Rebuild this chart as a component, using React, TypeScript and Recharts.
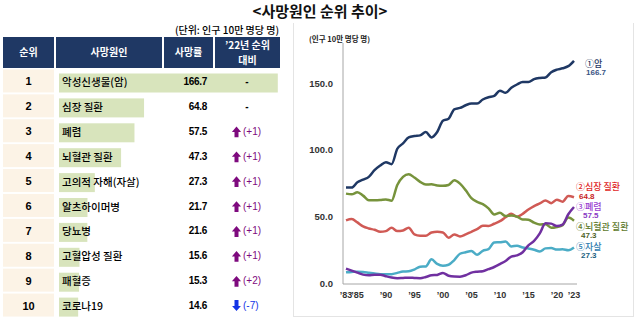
import React from 'react';
import { BarChart, Bar, XAxis, YAxis, LabelList, LineChart, Line } from 'recharts';

const FONT = '"Noto Sans CJK KR", "Noto Sans", sans-serif';
const NUMFONT = '"Liberation Sans", Arial, sans-serif';

// ---- table data ----
const ranks = [1, 2, 3, 4, 5, 6, 7, 8, 9, 10];
const causes = ['악성신생물(암)', '심장 질환', '폐렴', '뇌혈관 질환', '고의적 자해(자살)', '알츠하이머병', '당뇨병', '고혈압성 질환', '패혈증', '코로나19'];
const rates = [166.7, 64.8, 57.5, 47.3, 27.3, 21.7, 21.6, 15.6, 15.3, 14.6];
const rankChanges = ['-', '-', '+1', '+1', '+1', '+1', '+1', '+1', '+2', '-7'];
const headerLabels = [['순위'], ['사망원인'], ['사망률'], ['’22년 순위', '대비']];

// ---- trend data ----
const years = [1983, 1984, 1985, 1986, 1987, 1988, 1989, 1990, 1991, 1992, 1993, 1994, 1995, 1996, 1997, 1998, 1999, 2000, 2001, 2002, 2003, 2004, 2005, 2006, 2007, 2008, 2009, 2010, 2011, 2012, 2013, 2014, 2015, 2016, 2017, 2018, 2019, 2020, 2021, 2022, 2023];
const cancer = [72, 72, 76, 78, 80, 85, 88.5, 91, 89.5, 101, 105, 109.5, 110.5, 111, 113.5, 109.5, 113.5, 122, 123.5, 130.5, 131.5, 133.5, 134.8, 134.8, 137.8, 139.5, 140.5, 144.4, 142.8, 146.5, 149, 150.9, 150.8, 153, 153.9, 154.3, 158.2, 160.1, 161.1, 162.7, 166.7];
const heart = [47.5, 48.5, 46, 43, 41.5, 40.5, 39, 39.5, 42, 39.5, 40, 42, 37, 36, 36, 38.5, 39, 38.5, 34.5, 37, 35.5, 37, 39, 41, 43.5, 43.4, 45, 46.9, 49.8, 52.5, 50.2, 52.4, 55.6, 58.2, 60.2, 62.4, 60.4, 63.0, 61.5, 65.8, 64.8];
const pneumonia = [11.5, 10, 8.5, 7, 6.5, 7, 7, 5.8, 4.8, 4.3, 4.5, 4.7, 4.5, 4.3, 5.2, 6.5, 6.8, 8.3, 6.2, 5.6, 5.5, 6.5, 8.5, 9.2, 9.5, 11.1, 12.7, 14.9, 17.2, 20.5, 21.4, 23.7, 28.9, 32.2, 37.8, 45.4, 45.1, 43.3, 44.4, 52.1, 57.5];
const cerebro = [67.5, 67, 68.5, 66, 62.5, 62.5, 62.7, 63.2, 62.2, 74, 80, 82, 79.5, 76.3, 74.3, 74.5, 73.6, 73.4, 74, 77.5, 75, 70, 64.1, 61.3, 59.6, 56.5, 52.0, 53.2, 50.7, 51.1, 50.3, 48.2, 48.0, 45.8, 44.4, 44.7, 42.0, 42.6, 44.0, 49.6, 47.3];
const suicide = [8.7, 9, 9.2, 9, 8.4, 7.8, 7.3, 7.2, 7.3, 8.3, 9.3, 9.5, 10.8, 12.9, 13.1, 18.4, 15.0, 13.7, 14.4, 17.9, 22.6, 23.7, 24.7, 21.8, 24.8, 26.0, 31.0, 31.2, 31.7, 28.1, 28.5, 27.3, 26.5, 25.6, 24.3, 26.6, 26.9, 25.7, 26.0, 25.2, 27.3];
const xTicks = [1983, 1985, 1990, 1995, 2000, 2005, 2010, 2015, 2020, 2023];
const yTicks = [0, 50, 100, 150];

const tableData = ranks.map((r, i) => ({ rank: r, cause: causes[i], rate: rates[i], change: rankChanges[i] }));
const trendData = years.map((y, i) => ({
  year: y,
  cancer: cancer[i],
  heart: heart[i],
  pneumonia: pneumonia[i],
  cerebro: cerebro[i],
  suicide: suicide[i],
}));

const vbOf = (p: any) => {
  const vb = p.viewBox || {};
  return {
    x: p.x ?? vb.x,
    y: p.y ?? vb.y,
    width: p.width ?? vb.width ?? 0,
    height: p.height ?? vb.height ?? 0,
  };
};

const RankTick = (props: any) => {
  const { y, payload } = props;
  return (
    <g>
      <rect x={3} y={y - 12} width={51} height={23} fill="#FCF3E6" />
      <text x={28.5} y={y} textAnchor="middle" dominantBaseline="central" fontSize={11} fontWeight={700} fill="#000" fontFamily={NUMFONT}>
        {payload.value}
      </text>
    </g>
  );
};

const BarShape = (p: any) => (
  <rect x={p.x} y={p.y + 1.5} width={Math.max(p.width || 0, 0)} height={p.height} fill="#D8E4BC" />
);

const CauseLabel = (p: any) => {
  const b = vbOf(p);
  return (
    <text x={b.x + 3} y={b.y + b.height / 2} dominantBaseline="central" fontSize={10.5} fontWeight={500} fill="#000" fontFamily={FONT}>
      {p.value}
    </text>
  );
};

const RateLabel = (p: any) => {
  const b = vbOf(p);
  return (
    <text x={207} y={b.y + b.height / 2} textAnchor="end" dominantBaseline="central" fontSize={10} fontWeight={700} fill="#000" fontFamily={NUMFONT} letterSpacing={-0.3}>
      {Number(p.value).toFixed(1)}
    </text>
  );
};

const ChangeLabel = (p: any) => {
  const b = vbOf(p);
  const cy = b.y + b.height / 2;
  const v = String(p.value);
  if (v === '-') {
    return (
      <text x={247} y={cy} textAnchor="middle" dominantBaseline="central" fontSize={10} fontWeight={700} fill="#000" fontFamily={NUMFONT}>
        -
      </text>
    );
  }
  const up = v.startsWith('+');
  const color = up ? '#7E0A7E' : '#1434E6';
  const ax = 236.5;
  const d = up
    ? `M${ax} ${cy - 4.8} L${ax + 4.6} ${cy + 0.6} L${ax + 2} ${cy + 0.6} L${ax + 2} ${cy + 6} L${ax - 2} ${cy + 6} L${ax - 2} ${cy + 0.6} L${ax - 4.6} ${cy + 0.6} Z`
    : `M${ax} ${cy + 5.5} L${ax + 4.4} ${cy + 0.4} L${ax + 2} ${cy + 0.4} L${ax + 2} ${cy - 5.5} L${ax - 2} ${cy - 5.5} L${ax - 2} ${cy + 0.4} L${ax - 4.4} ${cy + 0.4} Z`;
  return (
    <g>
      <path d={d} fill={color} />
      <text x={243} y={cy} dominantBaseline="central" fontSize={10} fill={color} fontFamily={NUMFONT}>
        ({v})
      </text>
    </g>
  );
};

type EndCfg = { name: string; nameColor: string; numColor: string; nx: number; ny: number; vx: number; vy: number };
const makeEndLabel = (cfg: EndCfg) => (p: any) => {
  if (p.index !== years.length - 1) return null;
  const b = vbOf(p);
  return (
    <g>
      <text x={b.x + cfg.nx} y={b.y + cfg.ny} dominantBaseline="central" fontSize={9} fontWeight={500} fill={cfg.nameColor} fontFamily={FONT}>
        {cfg.name}
      </text>
      <text x={b.x + cfg.vx} y={b.y + cfg.vy} dominantBaseline="central" fontSize={8} fontWeight={700} fill={cfg.numColor} fontFamily={NUMFONT}>
        {Number(p.value).toFixed(1)}
      </text>
    </g>
  );
};

const seriesCfg = [
  { key: 'cancer', color: '#1F3864', label: { name: '①암', nameColor: '#1F3864', numColor: '#3A5585', nx: 11, ny: 2.5, vx: 12, vy: 12 } },
  { key: 'heart', color: '#D05A55', label: { name: '②심장 질환', nameColor: '#E02828', numColor: '#C81E1E', nx: 2, ny: -11, vx: 5, vy: -1 } },
  { key: 'cerebro', color: '#77933C', label: { name: '④뇌혈관 질환', nameColor: '#5E7A2C', numColor: '#4F6228', nx: 2, ny: 5.5, vx: 7, vy: 15 } },
  { key: 'suicide', color: '#4BACC6', label: { name: '⑤자살', nameColor: '#2F7DB0', numColor: '#215E7E', nx: 2, ny: -1, vx: 7, vy: 8.5 } },
  { key: 'pneumonia', color: '#7030A0', label: { name: '③폐렴', nameColor: '#9B3FD2', numColor: '#8A3AC4', nx: 2, ny: -1, vx: 9, vy: 8.5 } },
];

const headerCells = [
  { left: 3, width: 51 },
  { left: 56, width: 106 },
  { left: 164, width: 49 },
  { left: 215, width: 65 },
];

export default function App() {
  return (
    <div style={{ position: 'absolute', left: 0, top: 0, width: 640, height: 322, background: '#fff', fontFamily: FONT, overflow: 'hidden' }}>
      {/* title */}
      <div style={{ position: 'absolute', left: 0, top: 1, width: 640, textAlign: 'center', fontSize: 15, fontWeight: 700, lineHeight: '20px', color: '#111' }}>
        &lt;사망원인 순위 추이&gt;
      </div>
      {/* unit */}
      <div style={{ position: 'absolute', left: 120, top: 23, width: 159, textAlign: 'right', fontSize: 10, fontWeight: 500, lineHeight: '14px', color: '#000' }}>
        (단위: 인구 10만 명당 명)
      </div>
      {/* header */}
      {headerCells.map((c, i) => (
        <div
          key={i}
          style={{
            position: 'absolute',
            left: c.left,
            top: 37,
            width: c.width,
            height: 31,
            background: '#1F3864',
            color: '#fff',
            fontSize: 10,
            fontWeight: 700,
            display: 'flex',
            flexDirection: 'column',
            alignItems: 'center',
            justifyContent: 'center',
            lineHeight: '14.5px',
          }}
        >
          {headerLabels[i].map((t, j) => (
            <div key={j}>{t}</div>
          ))}
        </div>
      ))}
      {/* table bars */}
      <div style={{ position: 'absolute', left: 0, top: 69 }}>
        <BarChart width={290} height={249} data={tableData} layout="vertical" margin={{ top: 0, right: 0, bottom: 0, left: 0 }} barCategoryGap={0}>
          <XAxis type="number" domain={[0, 176]} hide />
          <YAxis type="category" dataKey="rank" width={59} axisLine={false} tickLine={false} tick={<RankTick />} interval={0} />
          <Bar dataKey="rate" barSize={19} isAnimationActive={false} shape={<BarShape />}>
            <LabelList dataKey="cause" content={CauseLabel} />
            <LabelList dataKey="rate" content={RateLabel} />
            <LabelList dataKey="change" content={ChangeLabel} />
          </Bar>
        </BarChart>
      </div>
      {/* right box */}
      <div style={{ position: 'absolute', left: 293, top: 23, width: 339, height: 293, borderLeft: '1px solid #E4E4E4', borderRight: '1px solid #E4E4E4', borderBottom: '1px solid #E4E4E4' }} />
      <div style={{ position: 'absolute', left: 309, top: 33, fontSize: 7.5, fontWeight: 700, lineHeight: '12px', color: '#222', whiteSpace: 'nowrap' }}>
        (인구 10만 명당 명)
      </div>
      <div style={{ position: 'absolute', left: 293, top: 23 }}>
        <LineChart width={340} height={294} data={trendData} margin={{ top: 20, right: 56, bottom: 13, left: 0 }}>
          <XAxis
            type="number"
            dataKey="year"
            domain={[1983, 2023]}
            ticks={xTicks}
            interval={0}
            padding={{ left: 3, right: 3 }}
            tickFormatter={(v: number) => '’' + String(v).slice(2)}
            tickLine={false}
            axisLine={{ stroke: '#A6A6A6' }}
            height={20}
            tick={{ fontSize: 9, fontWeight: 700, fill: '#333', fontFamily: NUMFONT }}
          />
          <YAxis
            type="number"
            domain={[0, 180]}
            ticks={yTicks}
            width={50}
            tickFormatter={(v: number) => v.toFixed(1)}
            tickLine={false}
            axisLine={{ stroke: '#A6A6A6' }}
            tickMargin={4}
            tick={{ fontSize: 9.5, fontWeight: 700, fill: '#333', fontFamily: NUMFONT }}
          />
          {seriesCfg.map((s) => (
            <Line
              key={s.key}
              type="monotone"
              dataKey={s.key}
              stroke={s.color}
              strokeWidth={2.5}
              dot={false}
              isAnimationActive={false}
            >
              <LabelList dataKey={s.key} content={makeEndLabel(s.label)} />
            </Line>
          ))}
        </LineChart>
      </div>
    </div>
  );
}
